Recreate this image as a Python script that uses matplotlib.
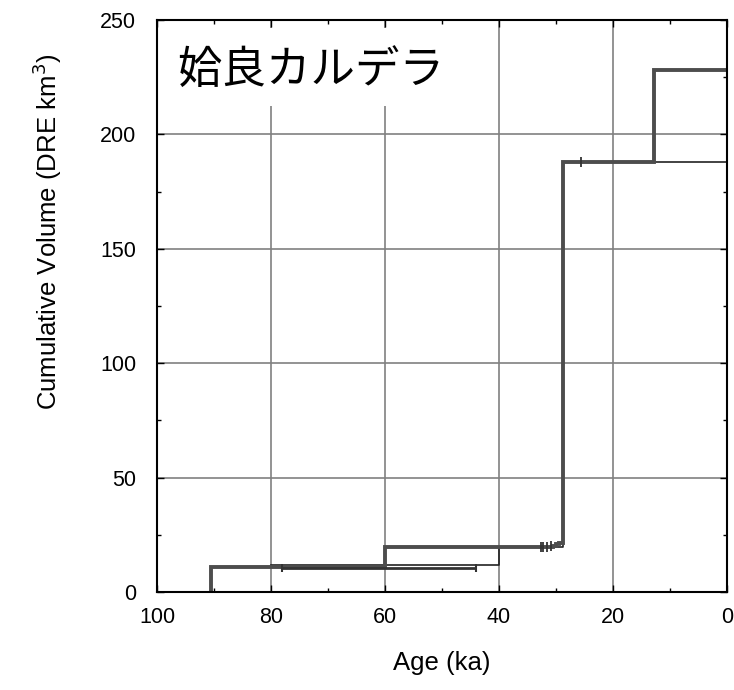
import numpy as np
import matplotlib
matplotlib.use('Agg')
import matplotlib.pyplot as plt
from matplotlib.patches import Rectangle

plt.rcParams['font.family'] = ['Liberation Sans', 'DejaVu Sans']

# main cumulative curve (thick)
main_age = [90.5, 90.5, 60, 60, 31.0, 30.5, 30.0, 29.5, 28.8, 28.8, 12.8, 12.8, 0]
main_vol = [0, 11, 11, 19.5, 19.5, 20.0, 20.8, 21.6, 22.0, 188, 188, 228, 228]

# alternative curve (thin)
alt_age = [80, 40, 40, 28.8, 28.8, 0]
alt_vol = [11.8, 11.8, 19.5, 19.5, 188, 188]

# age uncertainty bar
err_age = [61]
err_vol = [10.3]
err_x = [17]

# small tick marks along the curve
tick_age = [32.6, 32.2, 31.6, 30.8, 25.6]
tick_vol = [19.5, 19.5, 19.6, 20.2, 188]

title = '姶良カルデラ'

fig = plt.figure(figsize=(7.34, 6.90), dpi=100)
ax = fig.add_axes([0.2139, 0.142, 0.7766, 0.829])

ax.step(main_age, main_vol, where='post', color='#4d4d4d', lw=2.8, zorder=4,
        solid_joinstyle='miter')
ax.plot(alt_age, alt_vol, color='#222222', lw=1.2, zorder=3)
ax.errorbar(err_age, err_vol, xerr=err_x, fmt='none', ecolor='#333333',
            elinewidth=2.0, capsize=3, capthick=1.5, zorder=5)
ax.plot(tick_age, tick_vol, ls='none', marker='|', ms=7, mew=1.3,
        color='#333333', zorder=5)

ax.set_xlim(100, 0)
ax.set_ylim(0, 250)
ax.set_xticks(np.arange(100, -1, -20))
ax.set_yticks(np.arange(0, 251, 50))
ax.set_xticks(np.arange(90, 0, -20), minor=True)
ax.set_yticks(np.arange(25, 250, 50), minor=True)
ax.tick_params(which='both', direction='in', top=True, right=True,
               labelsize=15.5, color='black')
ax.tick_params(which='major', length=5, width=1)
ax.tick_params(which='minor', length=3, width=1)
ax.tick_params(axis='y', pad=15)
ax.tick_params(axis='x', pad=11)
ax.grid(True, which='major', color='#808080', lw=1.2, zorder=1)
ax.set_axisbelow(True)
for s in ax.spines.values():
    s.set_linewidth(1.5)
    s.set_zorder(6)

ax.set_xlabel('Age (ka)', fontsize=18.5, labelpad=16)
ax.set_ylabel('Cumulative Volume (DRE km$^3$)', fontsize=18.5)
ax.yaxis.set_label_coords(-0.163, 0.63)

ax.add_patch(Rectangle((0, 0.85), 0.505, 0.136, transform=ax.transAxes,
                       facecolor='white', edgecolor='none', zorder=2.5))
ax.text(0.036, 0.912, title, transform=ax.transAxes, fontsize=32, va='center',
        ha='left', family=['Noto Sans CJK JP', 'DejaVu Sans'], zorder=7)

fig.savefig('out.png', dpi=100)
